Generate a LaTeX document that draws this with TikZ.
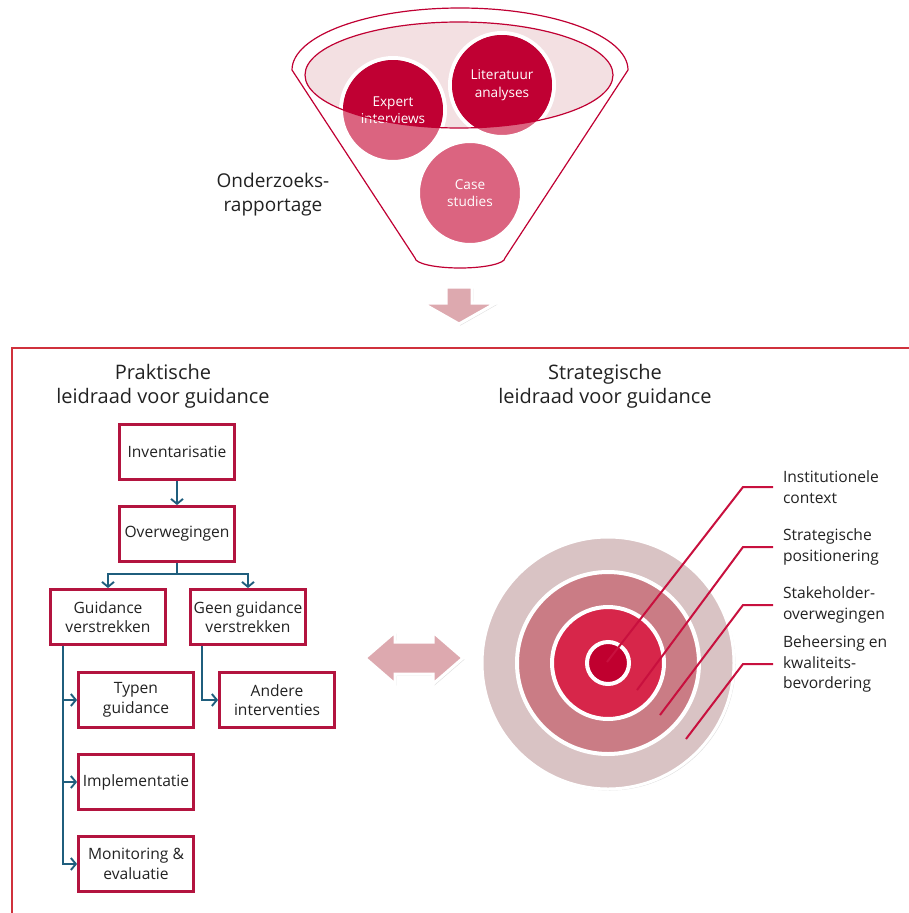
\documentclass[tikz,border=0pt]{standalone}
\usepackage{fontspec}
\setmainfont{Open Sans}
\usetikzlibrary{positioning,arrows.meta,shadows}

\definecolor{crimson}{HTML}{C00033}
\definecolor{boxred}{HTML}{B3143F}
\definecolor{discpink}{HTML}{DB6480}
\definecolor{bowlpink}{HTML}{F3E0E2}
\definecolor{flowblue}{HTML}{1F5E7D}
\definecolor{framered}{HTML}{D0313C}
\definecolor{arrowpink}{HTML}{DDA9AF}
\definecolor{ringa}{HTML}{D9C3C4}
\definecolor{ringb}{HTML}{CA7C85}
\definecolor{ringc}{HTML}{D7264A}
\definecolor{ringd}{HTML}{C0002F}
\definecolor{leaderred}{HTML}{C8103E}
\definecolor{inkgray}{HTML}{222222}

\begin{document}
\begin{tikzpicture}[
  x=1pt, y=-1pt,
  stepbox/.style={draw=boxred, line width=2.8pt, fill=white, minimum width=115pt,
    minimum height=55pt, inner sep=1pt, align=center, text=inkgray,
    font=\fontsize{15.6}{19.5}\selectfont,
    drop shadow={opacity=0.3, shadow xshift=1.5pt, shadow yshift=-1.5pt}},
  flow/.style={draw=flowblue, line width=1.9pt, -{Straight Barb[length=5pt,width=12pt]}},
  disc/.style={circle, draw=white, line width=4pt, fill=discpink, minimum size=104pt,
    drop shadow={opacity=0.2, shadow xshift=1pt, shadow yshift=-1pt}},
  disctext/.style={align=center, text=white, font=\fontsize{13.6}{17.5}\selectfont},
  ring/.style={draw=white, line width=4pt},
  leader/.style={draw=leaderred, line width=2pt},
  lbl/.style={anchor=west, align=left, inner sep=0pt, outer xsep=10pt, text=inkgray,
    font=\fontsize{15.6}{20.5}\selectfont},
  heading/.style={align=center, text=inkgray, font=\fontsize{20}{24}\selectfont},
  bigarrow/.style={fill=arrowpink, draw=white, line width=3pt,
    drop shadow={opacity=0.25, shadow xshift=1.5pt, shadow yshift=-1.5pt}}
]
\useasboundingbox (0,0) rectangle (909,913);

% funnel
\draw[crimson, line width=1.2pt, fill=white]
  (292,70) arc[start angle=180, end angle=360, x radius=168, y radius=62]
  -- (505,258) arc[start angle=0, end angle=180, x radius=45, y radius=10]
  -- cycle;
\fill[bowlpink] (459,75) ellipse (154 and 53);

% research methods
\node[disc] (expert) at (393,110) {};
\node[disc] (lit)    at (502,85)  {};
\node[disc] (case)   at (470,193) {};
\begin{scope}
  \clip (459,75) ellipse (154 and 53);
  \fill[crimson] (expert.center) circle (50);
  \fill[crimson] (lit.center) circle (50);
\end{scope}
\node[disctext] (expertlbl) at (expert) {Expert\\interviews};
\node[disctext] (litlbl)    at (lit)    {Literatuur\\analyses};
\node[disctext] (caselbl)   at (case)   {Case\\studies};
\draw[crimson, line width=1.2pt] (459,75) ellipse (154 and 53);

\node[heading, font=\fontsize{19}{24}\selectfont] (report) at (273,195) {Onderzoeks-\\rapportage};

% arrow down
\draw[bigarrow] (446,287) -- (472,287) -- (472,303) -- (496,303) -- (459,324)
  -- (422,303) -- (446,303) -- cycle;

% frame
\draw[framered, line width=1.5pt] (12,913) -- (12,348) -- (909,348);

\node[heading] (prakt) at (163,386) {Praktische\\leidraad voor guidance};
\node[heading] (strat) at (605,386) {Strategische\\leidraad voor guidance};

% practical guide
\node[stepbox] (inv) at (177,452)   {Inventarisatie};
\node[stepbox] (ovw) at (177,534)   {Overwegingen};
\node[stepbox] (gv)  at (108,617)   {Guidance\\verstrekken};
\node[stepbox] (gg)  at (248,617)   {Geen guidance\\verstrekken};
\node[stepbox] (typ) at (136,700)   {Typen\\guidance};
\node[stepbox] (imp) at (136,782)   {Implementatie};
\node[stepbox] (mon) at (136,864)   {Monitoring \&\\evaluatie};
\node[stepbox] (and) at (277,700)   {Andere\\interventies};

\draw[flow] (inv) -- (ovw);
\draw[flow] (ovw.south) -- ++(0,11) -| (gv.north);
\draw[flow] (ovw.south) -- ++(0,11) -| (gg.north);
\draw[flow] ([xshift=14pt]gv.south west) |- (typ.west);
\draw[flow] ([xshift=14pt]gv.south west) |- (imp.west);
\draw[flow] ([xshift=14pt]gv.south west) |- (mon.west);
\draw[flow] ([xshift=13pt]gg.south west) |- (and.west);

% two-way arrow
\draw[bigarrow] (365,658) -- (395,632) -- (395,642) -- (433,642) -- (433,632)
  -- (463,658) -- (433,684) -- (433,674) -- (395,674) -- (395,684) -- cycle;

% strategic guide
\fill[ringa, drop shadow={opacity=0.25, shadow xshift=1.5pt, shadow yshift=-1.5pt}]
  (608,663) circle (126);
\draw[white, line width=3pt] (608,663) circle (126);
\draw[ring, fill=ringb] (608,663) circle (91);
\draw[ring, fill=ringc] (608,663) circle (56);
\draw[ring, fill=ringd] (608,663) circle (21);

\coordinate (t1) at (607,662);
\coordinate (t2) at (637,690);
\coordinate (t3) at (660,715);
\coordinate (t4) at (686,739);

\node[lbl] (inst)  at (773,487) {Institutionele\\context};
\node[lbl] (pos)   at (773,547) {Strategische\\positionering};
\node[lbl] (stake) at (773,605) {Stakeholder-\\overwegingen};
\node[lbl] (behe)  at (773,664) {Beheersing en\\kwaliteits-\\bevordering};

\draw[leader] (t1) -- ([xshift=-30pt]inst.west) -- (inst.west);
\draw[leader] (t2) -- ([xshift=-30pt]pos.west) -- (pos.west);
\draw[leader] (t3) -- ([xshift=-30pt]stake.west) -- (stake.west);
\draw[leader] (t4) -- ([xshift=-30pt]behe.west) -- (behe.west);

\end{tikzpicture}
\end{document}
